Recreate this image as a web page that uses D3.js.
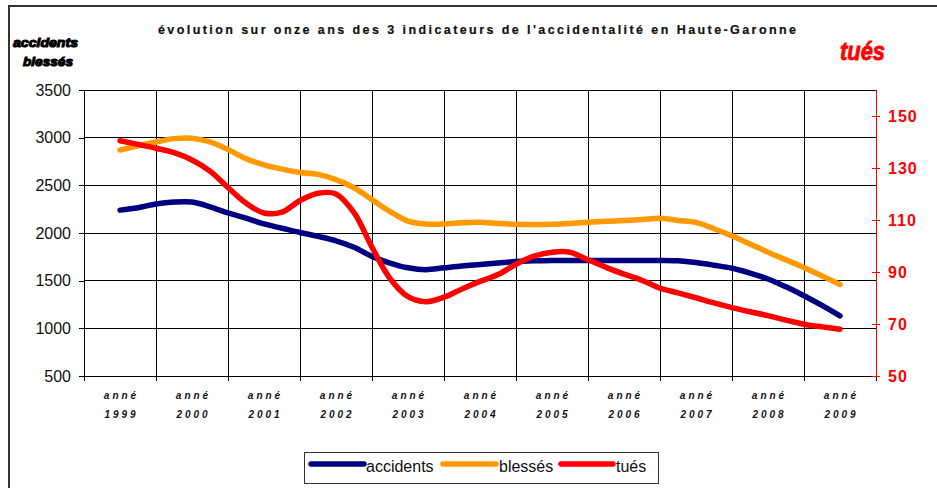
<!DOCTYPE html>
<html>
<head>
<meta charset="utf-8">
<script src="https://cdn.jsdelivr.net/npm/d3@7/dist/d3.min.js"></script>
<style>
  body { margin: 0; background: #fff; }
  svg { display: block; font-family: "Liberation Sans", Arial, sans-serif; }
</style>
</head>
<body>
<svg id="chart" width="937" height="488"></svg>
<script>
// Categories (one per year) and the quarterly readings drawn on them
const years = ["1999", "2000", "2001", "2002", "2003", "2004", "2005", "2006", "2007", "2008", "2009"];
const pointsPerYear = 4;

const accidents = [
  2240, 2265, 2305, 2325, 2325, 2275, 2210, 2155, 2095, 2050,
  2005, 1965, 1918, 1850, 1755, 1685, 1635, 1615, 1635, 1655,
  1670, 1685, 1700, 1708, 1712, 1712, 1712, 1712, 1712, 1712,
  1712, 1708, 1690, 1662, 1630, 1580, 1518, 1435, 1342, 1240,
  1130
];
const blesses = [
  2870, 2915, 2955, 2990, 2995, 2955, 2875, 2780, 2715, 2670,
  2635, 2615, 2560, 2475, 2350, 2225, 2125, 2095, 2095, 2108,
  2112, 2100, 2092, 2090, 2092, 2100, 2112, 2122, 2130, 2142,
  2155, 2132, 2112, 2045, 1970, 1885, 1798, 1718, 1638, 1550,
  1460
];
const tues = [
  140.5, 139.1, 137.6, 135.9, 133.1, 128.8, 122.5, 116.5, 112.7, 113.0,
  117.5, 120.3, 120.0, 112.8, 99.5, 87.5, 80.5, 78.6, 80.3, 83.5,
  86.4, 89.0, 93.0, 96.1, 97.6, 97.6, 94.7, 91.8, 89.2, 86.8,
  83.8, 82.0, 80.1, 78.1, 76.3, 74.7, 73.2, 71.5, 69.9, 68.9,
  68.0
];

const leftTicks = [500, 1000, 1500, 2000, 2500, 3000, 3500];
const rightTicks = [50, 70, 90, 110, 130, 150];

const title = "évolution sur onze ans des 3 indicateurs de l'accidentalité en Haute-Garonne";

const CONFIG = {
  left: 84, right: 876, top: 90, bottom: 376,
  lineWidth: 5.5,
  colors: { accidents: "#000080", blesses: "#FF9900", tues: "#FF0000" },
};

const svg = d3.select("#chart");

// Outer frame (only left and top edges show inside the picture)
svg.append("path")
  .attr("d", "M9,500 V6 H945")
  .attr("fill", "none")
  .attr("stroke", "#333")
  .attr("stroke-width", 2);

// Scales
const x = d3.scaleLinear().domain([-0.5, years.length - 0.5]).range([CONFIG.left, CONFIG.right]);
const yLeft = d3.scaleLinear().domain([500, 3500]).range([CONFIG.bottom, CONFIG.top]);
const yRight = d3.scaleLinear().domain([50, 160]).range([CONFIG.bottom, CONFIG.top]);

// Grid
const grid = svg.append("g").attr("shape-rendering", "crispEdges");
grid.selectAll(".hgrid")
  .data(leftTicks)
  .enter()
  .append("line")
  .attr("x1", CONFIG.left).attr("x2", CONFIG.right)
  .attr("y1", d => yLeft(d)).attr("y2", d => yLeft(d))
  .attr("stroke", "#000");

const bounds = d3.range(years.length + 1).map(i => i - 0.5);
grid.selectAll(".vgrid")
  .data(bounds)
  .enter()
  .append("line")
  .attr("x1", d => x(d)).attr("x2", d => x(d))
  .attr("y1", CONFIG.top).attr("y2", CONFIG.bottom)
  .attr("stroke", "#000");

// Left axis
const leftAxis = svg.append("g")
  .attr("transform", `translate(${CONFIG.left},0)`)
  .attr("shape-rendering", "crispEdges")
  .call(d3.axisLeft(yLeft).tickValues(leftTicks).tickSize(5).tickPadding(8).tickFormat(d3.format("d")));
leftAxis.select(".domain").attr("stroke", "#000");
leftAxis.selectAll(".tick line").attr("stroke", "#000");
leftAxis.selectAll("text")
  .attr("fill", "#111")
  .style("font-size", "16px")
  .style("font-family", "Liberation Sans, Arial, sans-serif");

// Bottom axis (ticks at category boundaries, no labels)
const bottomAxis = svg.append("g")
  .attr("transform", `translate(0,${CONFIG.bottom})`)
  .attr("shape-rendering", "crispEdges")
  .call(d3.axisBottom(x).tickValues(bounds).tickSize(5).tickFormat(""));
bottomAxis.select(".domain").attr("stroke", "#000");

// Category labels
const catLabels = svg.append("g")
  .style("font-size", "10px")
  .style("font-weight", "bold")
  .style("font-style", "italic")
  .attr("fill", "#111");
catLabels.selectAll(".l1")
  .data(years)
  .enter()
  .append("text")
  .attr("x", (d, i) => x(i) + 1.5)
  .attr("y", 399)
  .attr("text-anchor", "middle")
  .style("letter-spacing", "3px")
  .text("anné");
catLabels.selectAll(".l2")
  .data(years)
  .enter()
  .append("text")
  .attr("x", (d, i) => x(i) + 1.5)
  .attr("y", 418)
  .attr("text-anchor", "middle")
  .style("letter-spacing", "3px")
  .text(d => d);

// Right axis (red)
const rightAxis = svg.append("g")
  .attr("transform", `translate(${CONFIG.right},0)`)
  .attr("shape-rendering", "crispEdges")
  .call(d3.axisRight(yRight).tickValues(rightTicks).tickSize(4).tickPadding(8));
rightAxis.select(".domain").attr("stroke", "#FF0000").attr("d", `M0,${CONFIG.top}V${CONFIG.bottom}`);
rightAxis.selectAll(".tick line").attr("stroke", "#FF0000").attr("x1", -4);
rightAxis.selectAll("text")
  .attr("fill", "#FF0000")
  .style("font-size", "16px")
  .style("font-weight", "bold")
  .style("letter-spacing", "1px");

// Lines
const line = (yScale) => d3.line()
  .x((d, i) => x(i / pointsPerYear))
  .y(d => yScale(d))
  .curve(d3.curveCatmullRom.alpha(0.5));

const series = [
  { key: "blesses", values: blesses, scale: yLeft },
  { key: "accidents", values: accidents, scale: yLeft },
  { key: "tues", values: tues, scale: yRight },
];
svg.append("g").selectAll(".series")
  .data(series)
  .enter()
  .append("path")
  .attr("fill", "none")
  .attr("stroke", d => CONFIG.colors[d.key])
  .attr("stroke-width", CONFIG.lineWidth)
  .attr("stroke-linecap", "round")
  .attr("stroke-linejoin", "round")
  .attr("d", d => line(d.scale)(d.values));

// Title and axis captions
svg.append("text")
  .attr("x", 158).attr("y", 34)
  .attr("textLength", 638)
  .attr("lengthAdjust", "spacing")
  .style("font-size", "12.5px")
  .style("font-weight", "bold")
  .attr("fill", "#111")
  .attr("stroke", "#111").attr("stroke-width", 0.2)
  .text(title);

svg.append("text")
  .attr("x", 13).attr("y", 47)
  .attr("textLength", 65)
  .attr("lengthAdjust", "spacingAndGlyphs")
  .style("font-size", "13px").style("font-weight", "900").style("font-style", "italic")
  .attr("fill", "#000").attr("stroke", "#000").attr("stroke-width", 1.1)
  .text("accidents");
svg.append("text")
  .attr("x", 23).attr("y", 66)
  .attr("textLength", 50)
  .attr("lengthAdjust", "spacingAndGlyphs")
  .style("font-size", "13px").style("font-weight", "900").style("font-style", "italic")
  .attr("fill", "#000").attr("stroke", "#000").attr("stroke-width", 1.1)
  .text("blessés");

svg.append("text")
  .attr("x", 840).attr("y", 60)
  .attr("textLength", 45)
  .attr("lengthAdjust", "spacingAndGlyphs")
  .style("font-size", "25px").style("font-weight", "bold").style("font-style", "italic")
  .attr("fill", "#FF0000").attr("stroke", "#FF0000").attr("stroke-width", 0.8)
  .text("tués");

// Legend
const legend = svg.append("g");
legend.append("rect")
  .attr("x", 304.5).attr("y", 452.5)
  .attr("width", 354).attr("height", 31)
  .attr("fill", "#fff")
  .attr("stroke", "#333");

const legendItems = [
  { label: "accidents", color: CONFIG.colors.accidents, x1: 311, x2: 364, tx: 366 },
  { label: "blessés", color: CONFIG.colors.blesses, x1: 443, x2: 496, tx: 499 },
  { label: "tués", color: CONFIG.colors.tues, x1: 561, x2: 613, tx: 616 },
];
const items = legend.selectAll(".item")
  .data(legendItems)
  .enter()
  .append("g");
items.append("line")
  .attr("x1", d => d.x1).attr("x2", d => d.x2)
  .attr("y1", 464).attr("y2", 464)
  .attr("stroke", d => d.color)
  .attr("stroke-width", CONFIG.lineWidth)
  .attr("stroke-linecap", "round");
items.append("text")
  .attr("x", d => d.tx).attr("y", 472)
  .style("font-size", "16px")
  .attr("fill", "#111")
  .text(d => d.label);
</script>
</body>
</html>
